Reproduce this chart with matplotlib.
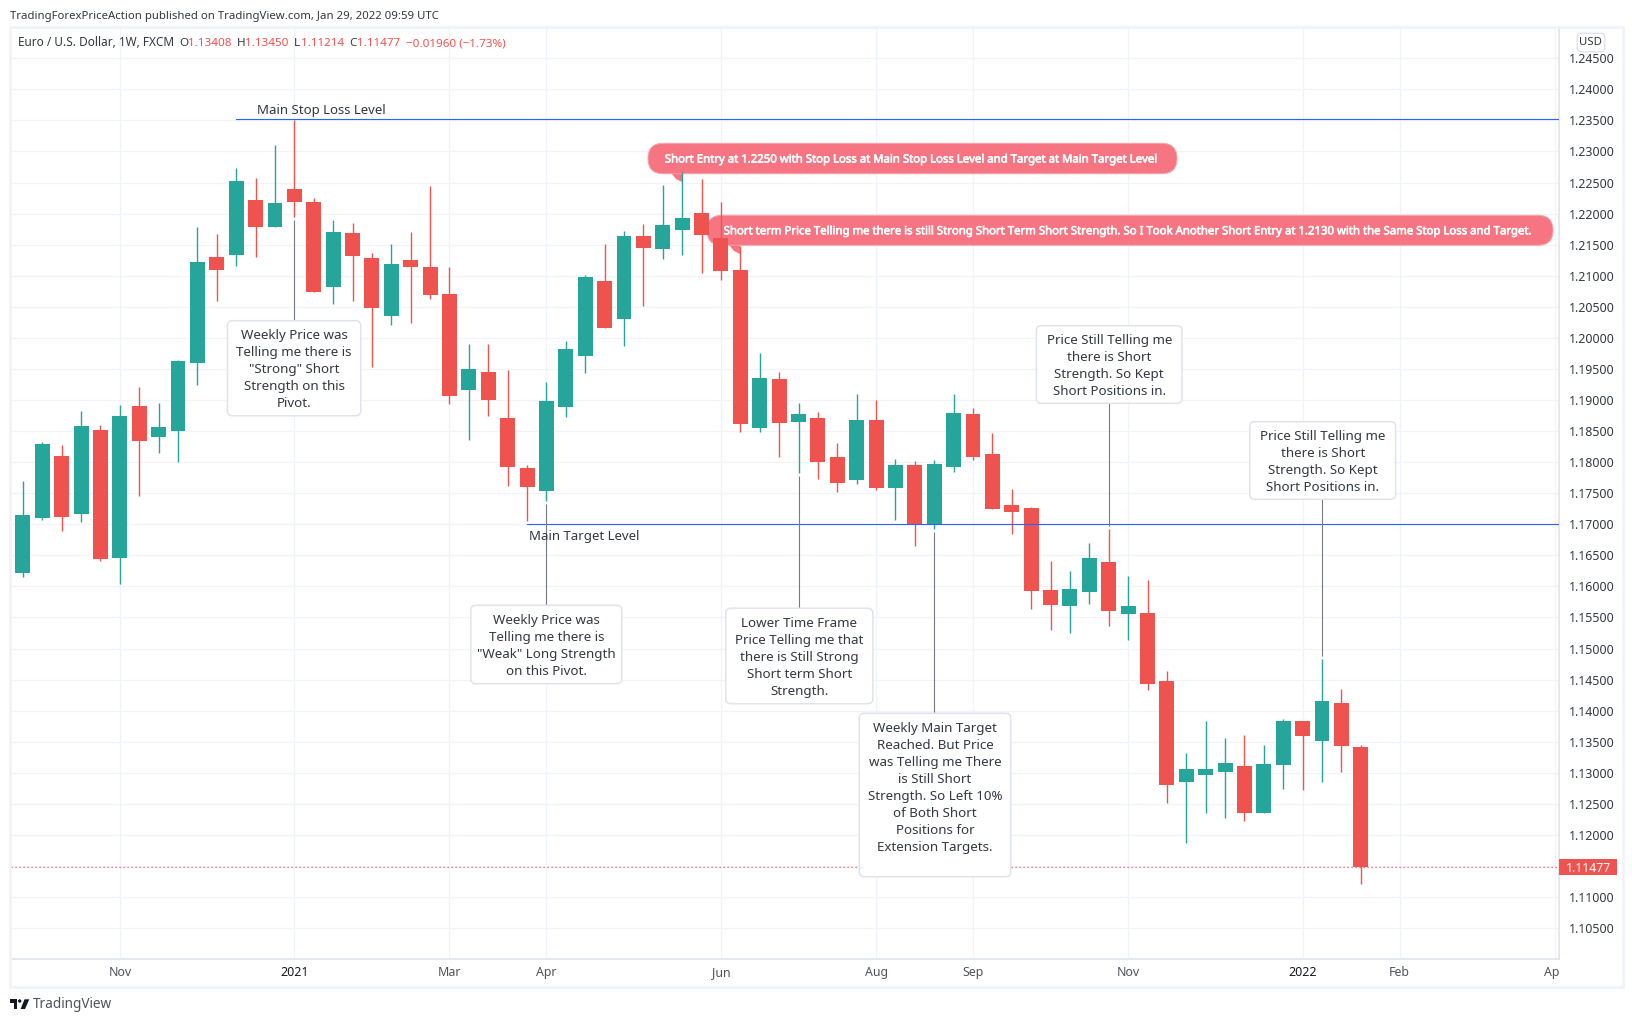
import numpy as np
import matplotlib
matplotlib.use("Agg")
import matplotlib.pyplot as plt
import matplotlib.patheffects as pe
from matplotlib.patches import FancyBboxPatch, Polygon, Rectangle, Circle

W, H = 1633, 1022
FONT = "Noto Sans"
plt.rcParams["font.family"] = [FONT, "DejaVu Sans"]

GREEN = "#26a69a"
RED = "#ef5350"
BLUE = "#2962ff"
BALLOON = "#f76e7b"
GRID = "#f0f3fa"
BORDER = "#e0e3eb"
TEXT = "#333842"
NOTE = "#787b86"

# weekly EUR/USD candles, the first one is the sliver at the left edge
first_week = -1
opens = [1.1841, 1.1622, 1.1710, 1.1810, 1.1717, 1.1852, 1.1646, 1.1890, 1.1841, 1.1850,
         1.1960, 1.2130, 1.2133, 1.2222, 1.2178, 1.2240, 1.2219, 1.2082, 1.2169, 1.2129,
         1.2035, 1.2125, 1.2114, 1.2071, 1.1916, 1.1945, 1.1871, 1.1791, 1.1754, 1.1889,
         1.1971, 1.2092, 1.2031, 1.2164, 1.2143, 1.2174, 1.2201, 1.2161, 1.2109, 1.1855,
         1.1934, 1.1865, 1.1871, 1.1808, 1.1771, 1.1868, 1.1759, 1.1796, 1.1699, 1.1792,
         1.1878, 1.1813, 1.1731, 1.1726, 1.1594, 1.1569, 1.1591, 1.1639, 1.1556, 1.1557,
         1.1448, 1.1285, 1.1297, 1.1301, 1.1311, 1.1235, 1.1313, 1.1383, 1.1351, 1.1412,
         1.13408]
highs = [1.1841, 1.1770, 1.1833, 1.1828, 1.1882, 1.1860, 1.1892, 1.1921, 1.1895, 1.1964,
         1.2179, 1.2167, 1.2273, 1.2257, 1.2310, 1.2351, 1.2225, 1.2190, 1.2185, 1.2137,
         1.2151, 1.2170, 1.2245, 1.2114, 1.1990, 1.1990, 1.1948, 1.1796, 1.1929, 1.1995,
         1.2101, 1.2151, 1.2172, 1.2183, 1.2246, 1.2267, 1.2256, 1.2219, 1.2148, 1.1976,
         1.1945, 1.1895, 1.1881, 1.1831, 1.1910, 1.1900, 1.1805, 1.1802, 1.1804, 1.1910,
         1.1887, 1.1847, 1.1757, 1.1728, 1.1641, 1.1625, 1.1670, 1.1692, 1.1617, 1.1610,
         1.1464, 1.1332, 1.1383, 1.1356, 1.1361, 1.1345, 1.1387, 1.1383, 1.1483, 1.1435,
         1.13450]
lows = [1.1627, 1.1615, 1.1707, 1.1689, 1.1704, 1.1641, 1.1604, 1.1746, 1.1815, 1.1800,
        1.1924, 1.2059, 1.2116, 1.2130, 1.2178, 1.2195, 1.2074, 1.2055, 1.2059, 1.1953,
        1.2021, 1.2024, 1.2063, 1.1894, 1.1836, 1.1874, 1.1762, 1.1705, 1.1738, 1.1873,
        1.1944, 1.2016, 1.1987, 1.2051, 1.2127, 1.2134, 1.2105, 1.2093, 1.1849, 1.1849,
        1.1808, 1.1783, 1.1773, 1.1752, 1.1765, 1.1755, 1.1707, 1.1665, 1.1693, 1.1784,
        1.1804, 1.1725, 1.1684, 1.1564, 1.1530, 1.1525, 1.1572, 1.1536, 1.1514, 1.1433,
        1.1252, 1.1187, 1.1235, 1.1227, 1.1223, 1.1235, 1.1274, 1.1272, 1.1285, 1.1301,
        1.11214]
closes = [1.1627, 1.1715, 1.1829, 1.1712, 1.1858, 1.1644, 1.1874, 1.1834, 1.1857, 1.1963,
          1.2122, 1.2109, 1.2253, 1.2178, 1.2217, 1.2219, 1.2074, 1.2171, 1.2132, 1.2048,
          1.2119, 1.2114, 1.2069, 1.1907, 1.1950, 1.1900, 1.1792, 1.1760, 1.1899, 1.1982,
          1.2098, 1.2016, 1.2164, 1.2145, 1.2182, 1.2193, 1.2166, 1.2108, 1.1861, 1.1936,
          1.1863, 1.1878, 1.1800, 1.1767, 1.1868, 1.1759, 1.1796, 1.1699, 1.1797, 1.1879,
          1.1808, 1.1725, 1.1720, 1.1593, 1.1570, 1.1596, 1.1646, 1.1560, 1.1569, 1.1443,
          1.1280, 1.1306, 1.1306, 1.1316, 1.1235, 1.1314, 1.1383, 1.1359, 1.1416, 1.1343,
          1.11477]

last_price = 1.11477
stop_level = 1.2352
stop_start = 11
target_level = 1.17
target_start = 26

month_weeks = [5, 14, 22, 27, 36, 44, 49, 57, 66, 71, 79]
month_labels = ["Nov", "2021", "Mar", "Apr", "Jun", "Aug", "Sep", "Nov", "2022", "Feb", "Apr"]
price_ticks = [1.105, 1.11, 1.115, 1.12, 1.125, 1.13, 1.135, 1.14, 1.145, 1.15, 1.155, 1.16,
               1.165, 1.17, 1.175, 1.18, 1.185, 1.19, 1.195, 1.2, 1.205, 1.21, 1.215, 1.22,
               1.225, 1.23, 1.235, 1.24, 1.245]
hidden_tick = 1.115  # sits under the last price tag

# note pointers: week, price at the candle end, price under the box
pointer_weeks = [14, 27, 40, 47, 56, 67]
pointer_from = [1.2190, 1.1733, 1.1778, 1.1688, 1.1697, 1.1488]
pointer_to = [1.2000, 1.1550, 1.1550, 1.1380, 1.1910, 1.1760]

note_a = ["Weekly Price was", "Telling me there is", "\"Strong\" Short", "Strength on this", "Pivot."]
note_b = ["Weekly Price was", "Telling me there is", "\"Weak\" Long Strength", "on this Pivot."]
note_c = ["Lower Time Frame", "Price Telling me that", "there is Still Strong", "Short term Short", "Strength."]
note_d = ["Weekly Main Target", "Reached. But Price", "was Telling me There", "is Still Short",
          "Strength. So Left 10%", "of Both Short", "Positions for", "Extension Targets."]
note_e = ["Price Still Telling me", "there is Short", "Strength. So Kept", "Short Positions in."]
note_f = note_e

balloon_one = "Short Entry at 1.2250 with Stop Loss at Main Stop Loss Level and Target at Main Target Level"
balloon_two = ("Short term Price Telling me there is still Strong Short Term Short Strength. "
               "So I Took Another Short Entry at 1.2130 with the Same Stop Loss and Target.")


def box(left, top, right, bottom):
    return [left / W, 1 - bottom / H, (right - left) / W, (bottom - top) / H]


PLOT_L, PLOT_T, PLOT_R, PLOT_B = 11, 27, 1559, 959
BAR0, BAR_STEP = 22.9, 19.39

fig = plt.figure(figsize=(W / 100, H / 100), dpi=100, facecolor="white")

ax = fig.add_axes(box(PLOT_L, PLOT_T, PLOT_R, PLOT_B))
ax.set_xlim((PLOT_L - BAR0) / BAR_STEP, (PLOT_R - BAR0) / BAR_STEP)
ax.set_ylim(1.245 - (PLOT_B - 58.3) / 6213, 1.245 - (PLOT_T - 58.3) / 6213)
ax.set_axisbelow(True)
ax.grid(True, color=GRID, lw=0.9)
ax.set_xticks(month_weeks)
ax.set_xticklabels([])
ax.set_yticks(price_ticks)
ax.set_yticklabels(["" if p == hidden_tick else "%.5f" % p for p in price_ticks],
                   ha="left", fontsize=8.9, color=TEXT)
ax.yaxis.tick_right()
ax.tick_params(axis="both", length=0)
ax.tick_params(axis="y", pad=7)
for side in ["left", "top"]:
    ax.spines[side].set_visible(False)
for side in ["right", "bottom"]:
    ax.spines[side].set_color(BORDER)
    ax.spines[side].set_linewidth(1.2)

weeks = first_week + np.arange(len(opens))
o, h, l, c = map(np.array, (opens, highs, lows, closes))
colors = [GREEN if up else RED for up in c >= o]
ax.vlines(weeks, l, h, colors=colors, lw=1.0, zorder=3)
ax.bar(weeks, np.abs(c - o), bottom=np.minimum(o, c), width=0.77, color=colors, lw=0, zorder=3)

ax.plot([stop_start, ax.get_xlim()[1]], [stop_level, stop_level], color=BLUE, lw=0.8, zorder=4)
ax.plot([target_start, ax.get_xlim()[1]], [target_level, target_level], color=BLUE, lw=0.8, zorder=4)
ax.axhline(last_price, color=RED, lw=0.9, ls=(0, (1, 2.2)), zorder=2)
ax.vlines(pointer_weeks, pointer_to, pointer_from, colors=NOTE, lw=0.8, zorder=4)

ax.text(15.4, 1.2366, "Main Stop Loss Level", ha="center", va="center", fontsize=9.5, color=TEXT, zorder=5)
ax.text(28.93, 1.1680, "Main Target Level", ha="center", va="center", fontsize=9.5, color=TEXT, zorder=5)

# time scale strip, the last label gets cut by the price scale
tx = fig.add_axes(box(PLOT_L, PLOT_B, PLOT_R, 986))
tx.set_xlim(ax.get_xlim())
tx.set_ylim(0, 1)
tx.axis("off")
for wk, lab in zip(month_weeks, month_labels):
    strong = lab.startswith("20")
    tx.text(wk, 0.36, lab, ha="center", va="baseline", fontsize=8.9, clip_on=True,
            color="#131722" if strong else "#50535e", fontweight="bold" if strong else "normal")

# overlay in picture pixels for the notes, balloons and header
ov = fig.add_axes([0, 0, 1, 1], zorder=10)
ov.set_xlim(0, W)
ov.set_ylim(H, 0)
ov.axis("off")
ov.patch.set_alpha(0)

ov.add_patch(Rectangle((10, 27), 1613.5, 960, fill=False, ec=GRID, lw=2))


def note(lines, left, top, right, bottom, first_y):
    ov.add_patch(FancyBboxPatch((left, top), right - left, bottom - top,
                                boxstyle="round,pad=0,rounding_size=5", fc="white", ec=BORDER, lw=1.1))
    for n, line in enumerate(lines):
        ov.text((left + right) / 2, first_y + 4.5 + 17 * n, line, ha="center", va="baseline",
                fontsize=9.6, color=TEXT)


note(note_a, 227.5, 320.7, 360.7, 415.7, 334.3)
note(note_b, 470.8, 605.3, 621.8, 683.7, 619.3)
note(note_c, 725.7, 608.3, 872.9, 703.7, 622.3)
note(note_d, 859.3, 713.3, 1010.7, 876.7, 727.3)
note(note_e, 1036.4, 325.7, 1182, 403.3, 339.3)
note(note_f, 1249.8, 421.7, 1395.6, 499.3, 435.3)


def balloon(text, left, top, right, bottom, tail):
    # candles stay on top of the balloons, only the text goes over them
    ax.add_patch(Polygon(tail, closed=True, fc=BALLOON, ec="none", alpha=0.95,
                         transform=ov.transData, zorder=2, clip_on=False))
    radius = (bottom - top) / 2
    ax.add_patch(FancyBboxPatch((left, top), right - left, bottom - top,
                                boxstyle="round,pad=0,rounding_size=%.1f" % radius,
                                fc=BALLOON, ec="#f9a3a9", lw=0.7, alpha=0.95,
                                transform=ov.transData, zorder=2, clip_on=False))
    t = ov.text((left + right) / 2, (top + bottom) / 2 + 4, text, ha="center", va="baseline",
                fontsize=8.2, color="white")
    t.set_path_effects([pe.withStroke(linewidth=0.45, foreground="white")])


balloon(balloon_one, 648, 143.3, 1177, 173.7, [(671, 173), (676, 179), (682, 182), (682, 173)])
balloon(balloon_two, 707, 215.3, 1553, 245.3, [(729, 245), (734, 251), (740, 254), (740, 245)])

# last price tag and currency button
ov.add_patch(Rectangle((1559, 859), 58, 16, fc=RED, ec="none"))
ov.text(1589, 871.5, "%.5f" % last_price, ha="center", va="baseline", fontsize=8.9, color="white",
        fontweight="bold")
ov.add_patch(FancyBboxPatch((1577.3, 33.3), 27.4, 18.4, boxstyle="round,pad=0,rounding_size=4",
                            fc="white", ec=BORDER, lw=1))
ov.text(1591, 42.6, "USD", ha="center", va="center", fontsize=8.2, color=TEXT)

# header
ov.text(10.4, 19.5, "TradingForexPriceAction published on TradingView.com, Jan 29, 2022 09:59 UTC",
        ha="left", va="baseline", fontsize=8.2, color="#333842")
ov.text(17.7, 46.3, "Euro / U.S. Dollar, 1W, FXCM", ha="left", va="baseline", fontsize=8.5, color=TEXT)
for x, s, col in [(179, "O", TEXT), (188.2, "1.13408", RED), (236.4, "H", TEXT), (244.6, "1.13450", RED),
                  (294, "L", TEXT), (300.7, "1.11214", RED), (349.6, "C", TEXT), (357.5, "1.11477", RED),
                  (406, "\u22120.01960 (\u22121.73%)", RED)]:
    ov.text(x, 46.3, s, ha="left", va="baseline", fontsize=8.4, color=col)

# footer logo
ov.add_patch(Polygon([(10, 999.3), (17.3, 999.3), (17.3, 1009), (14, 1009), (14, 1002.7), (10, 1002.7)],
                     closed=True, fc="#131722", ec="none"))
ov.add_patch(Circle((19.7, 1001), 1.7, fc="#131722", ec="none"))
ov.add_patch(Polygon([(24.5, 999.3), (29.3, 999.3), (25, 1009), (20.6, 1009)], closed=True, fc="#131722", ec="none"))
ov.text(33, 1004, "TradingView", ha="left", va="center", fontsize=9.8, color="#50535e")

fig.savefig("out.png", dpi=100)
